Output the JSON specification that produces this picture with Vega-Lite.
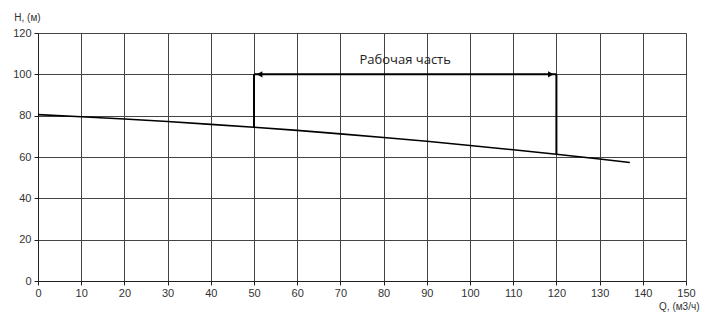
{
  "$schema": "https://vega.github.io/schema/vega-lite/v6.json",
  "width": 648,
  "height": 248,
  "autosize": {"type": "none"},
  "padding": {"left": 38, "top": 33, "right": 16, "bottom": 31},
  "background": "white",
  "config": {
    "view": {"stroke": null},
    "font": "Liberation Sans",
    "axis": {
      "grid": true,
      "gridColor": "#444444",
      "gridWidth": 1,
      "gridOpacity": 1,
      "domainColor": "#222222",
      "tickColor": "#222222",
      "tickSize": 4,
      "labelFont": "Liberation Sans",
      "labelFontSize": 11,
      "labelColor": "#333333",
      "titleFont": "Liberation Sans",
      "titleFontSize": 10,
      "titleFontWeight": "normal",
      "titleColor": "#333333"
    }
  },
  "datasets": {
    "curve": [
      {"Q": 0, "H": 80.5},
      {"Q": 10, "H": 79.5},
      {"Q": 20, "H": 78.4},
      {"Q": 30, "H": 77.2},
      {"Q": 40, "H": 75.8},
      {"Q": 50, "H": 74.4},
      {"Q": 60, "H": 72.9},
      {"Q": 70, "H": 71.2},
      {"Q": 80, "H": 69.4},
      {"Q": 90, "H": 67.6},
      {"Q": 100, "H": 65.6},
      {"Q": 110, "H": 63.5},
      {"Q": 120, "H": 61.3},
      {"Q": 130, "H": 59.0},
      {"Q": 137, "H": 57.3}
    ],
    "bounds": [
      {"Q": 50, "H1": 74.4, "H2": 100},
      {"Q": 120, "H1": 61.3, "H2": 100}
    ],
    "arrow": [
      {"Q1": 50, "Q2": 120, "H": 100}
    ],
    "heads": [
      {"Q": 51.3, "H": 100, "dir": "left"},
      {"Q": 118.7, "H": 100, "dir": "right"}
    ],
    "label": [
      {"Q": 85, "H": 107, "text": "Рабочая часть"}
    ]
  },
  "layer": [
    {
      "data": {"name": "curve"},
      "mark": {"type": "line", "color": "#000000", "strokeWidth": 1.6},
      "encoding": {
        "x": {
          "field": "Q", "type": "quantitative",
          "scale": {"domain": [0, 150], "nice": false, "zero": false},
          "axis": {
            "values": [0, 10, 20, 30, 40, 50, 60, 70, 80, 90, 100, 110, 120, 130, 140, 150],
            "title": "Q, (м3/ч)",
            "titleAnchor": "end",
            "titleAlign": "right",
            "titleX": 661,
            "titleY": 25,
            "titleBaseline": "middle",
            "labelPadding": 2,
            "labelFlush": false
          }
        },
        "y": {
          "field": "H", "type": "quantitative",
          "scale": {"domain": [0, 120], "nice": false},
          "axis": {
            "values": [0, 20, 40, 60, 80, 100, 120],
            "title": "H, (м)",
            "titleAngle": 0,
            "titleAlign": "center",
            "titleBaseline": "middle",
            "titleX": -11,
            "titleY": -16,
            "labelPadding": 3
          }
        }
      }
    },
    {
      "data": {"name": "bounds"},
      "mark": {"type": "rule", "color": "#000000", "strokeWidth": 2},
      "encoding": {
        "x": {"field": "Q", "type": "quantitative"},
        "y": {"field": "H1", "type": "quantitative"},
        "y2": {"field": "H2"}
      }
    },
    {
      "data": {"name": "arrow"},
      "mark": {"type": "rule", "color": "#000000", "strokeWidth": 2},
      "encoding": {
        "x": {"field": "Q1", "type": "quantitative"},
        "x2": {"field": "Q2"},
        "y": {"field": "H", "type": "quantitative"}
      }
    },
    {
      "data": {"name": "heads"},
      "mark": {"type": "point", "filled": true, "color": "#000000", "size": 40, "opacity": 1},
      "encoding": {
        "x": {"field": "Q", "type": "quantitative"},
        "y": {"field": "H", "type": "quantitative"},
        "shape": {
          "field": "dir", "type": "nominal",
          "scale": {"domain": ["left", "right"], "range": ["triangle-left", "triangle-right"]},
          "legend": null
        }
      }
    },
    {
      "data": {"name": "label"},
      "mark": {"type": "text", "font": "Open Sans", "fontSize": 13, "color": "#222222", "align": "center", "baseline": "middle"},
      "encoding": {
        "x": {"field": "Q", "type": "quantitative"},
        "y": {"field": "H", "type": "quantitative"},
        "text": {"field": "text"}
      }
    }
  ]
}
